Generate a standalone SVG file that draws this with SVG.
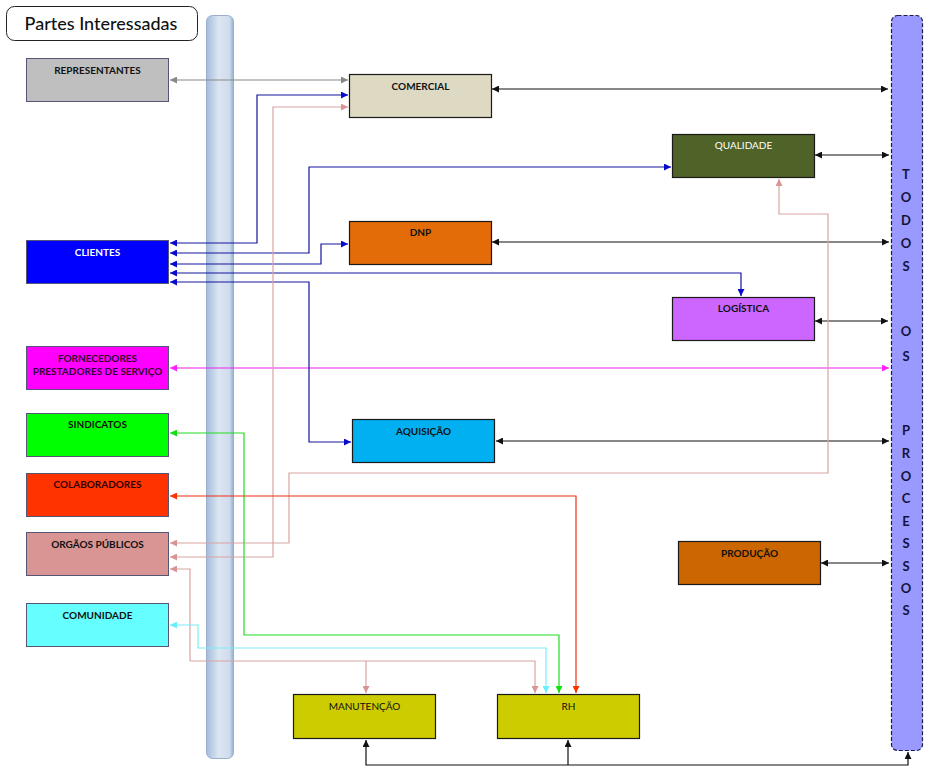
<svg xmlns="http://www.w3.org/2000/svg" width="930" height="774" viewBox="0 0 930 774">
<defs>
<style>
.n{stroke:#1a1a1a;stroke-width:1.2}
.ln{stroke:#555577;stroke-width:1}
.t{font-family:Lato,"Liberation Sans",sans-serif;font-size:10px;font-weight:bold;text-anchor:middle;fill:#111}
.tr{font-family:Lato,"Liberation Sans",sans-serif;font-size:10px;text-anchor:middle;fill:#111}
.v{font-family:Lato,"Liberation Sans",sans-serif;font-size:13px;font-weight:bold;text-anchor:middle;fill:#14143a}
.c{fill:none;stroke-width:1.2}
</style>
<linearGradient id="bar" x1="0" y1="0" x2="1" y2="0">
<stop offset="0" stop-color="#a5bcdc"/>
<stop offset="0.45" stop-color="#dce6f2"/>
<stop offset="0.85" stop-color="#cfdcec"/>
<stop offset="1" stop-color="#94aed2"/>
</linearGradient>
<marker id="mk" viewBox="0 0 10 10" refX="10" refY="5" markerWidth="9" markerHeight="7" markerUnits="userSpaceOnUse" orient="auto-start-reverse"><path d="M0,0 L10,5 L0,10 z" fill="#111"/></marker>
<marker id="mg" viewBox="0 0 10 10" refX="10" refY="5" markerWidth="9" markerHeight="7" markerUnits="userSpaceOnUse" orient="auto-start-reverse"><path d="M0,0 L10,5 L0,10 z" fill="#888"/></marker>
<marker id="mb" viewBox="0 0 10 10" refX="10" refY="5" markerWidth="9" markerHeight="7" markerUnits="userSpaceOnUse" orient="auto-start-reverse"><path d="M0,0 L10,5 L0,10 z" fill="#0a0acc"/></marker>
<marker id="mm" viewBox="0 0 10 10" refX="10" refY="5" markerWidth="9" markerHeight="7" markerUnits="userSpaceOnUse" orient="auto-start-reverse"><path d="M0,0 L10,5 L0,10 z" fill="#ff22ff"/></marker>
<marker id="mp" viewBox="0 0 10 10" refX="10" refY="5" markerWidth="9" markerHeight="7" markerUnits="userSpaceOnUse" orient="auto-start-reverse"><path d="M0,0 L10,5 L0,10 z" fill="#d99594"/></marker>
<marker id="mc" viewBox="0 0 10 10" refX="10" refY="5" markerWidth="9" markerHeight="7" markerUnits="userSpaceOnUse" orient="auto-start-reverse"><path d="M0,0 L10,5 L0,10 z" fill="#66f0ff"/></marker>
<marker id="mgr" viewBox="0 0 10 10" refX="10" refY="5" markerWidth="9" markerHeight="7" markerUnits="userSpaceOnUse" orient="auto-start-reverse"><path d="M0,0 L10,5 L0,10 z" fill="#11dd11"/></marker>
<marker id="mr" viewBox="0 0 10 10" refX="10" refY="5" markerWidth="9" markerHeight="7" markerUnits="userSpaceOnUse" orient="auto-start-reverse"><path d="M0,0 L10,5 L0,10 z" fill="#ff3300"/></marker>
</defs>
<rect width="930" height="774" fill="#ffffff"/>

<g id="title">
<rect x="6.5" y="6.5" width="191" height="34" rx="8" fill="#fff" stroke="#222" stroke-width="1"/>
<text x="101" y="30" font-family="Lato,'Liberation Sans',sans-serif" font-size="18" font-weight="500" text-anchor="middle" fill="#111">Partes Interessadas</text>
</g>

<g id="barra">
<rect x="206.5" y="15.5" width="27" height="743" rx="6" fill="url(#bar)" stroke="#9aaecb" stroke-width="1"/>
</g>

<g id="todos">
<rect x="891.5" y="15.5" width="31" height="735" rx="6" fill="#9999ff" stroke="#1c1c4a" stroke-width="1.2" stroke-dasharray="4,2"/>
<text class="v" x="906" y="179">T</text>
<text class="v" x="906" y="202">O</text>
<text class="v" x="906" y="225">D</text>
<text class="v" x="906" y="248">O</text>
<text class="v" x="906" y="271">S</text>
<text class="v" x="906" y="336">O</text>
<text class="v" x="906" y="361">S</text>
<text class="v" x="906" y="435">P</text>
<text class="v" x="906" y="458">R</text>
<text class="v" x="906" y="481">O</text>
<text class="v" x="906" y="503">C</text>
<text class="v" x="906" y="526">E</text>
<text class="v" x="906" y="548">S</text>
<text class="v" x="906" y="571">S</text>
<text class="v" x="906" y="593">O</text>
<text class="v" x="906" y="615">S</text>
</g>

<g id="connectors">
<path class="c" stroke="#888" d="M170,80 H348" marker-start="url(#mg)" marker-end="url(#mg)"/>
<path class="c" stroke="#111" d="M492,89 H888" marker-start="url(#mk)" marker-end="url(#mk)"/>
<path class="c" stroke="#111" d="M815,155 H889" marker-start="url(#mk)" marker-end="url(#mk)"/>
<path class="c" stroke="#111" d="M492,242 H889" marker-start="url(#mk)" marker-end="url(#mk)"/>
<path class="c" stroke="#111" d="M815,321 H888" marker-start="url(#mk)" marker-end="url(#mk)"/>
<path class="c" stroke="#111" d="M496,441 H889" marker-start="url(#mk)" marker-end="url(#mk)"/>
<path class="c" stroke="#111" d="M821,563 H889" marker-start="url(#mk)" marker-end="url(#mk)"/>
<path class="c" stroke="#111" d="M366,740 V765 H908 V752" marker-start="url(#mk)" marker-end="url(#mk)"/>
<path class="c" stroke="#111" d="M568,765 V740" marker-end="url(#mk)"/>
<path class="c" stroke="#ee22ee" d="M170,368 H889" marker-start="url(#mm)" marker-end="url(#mm)"/>
<path class="c" stroke="#14149c" d="M170,243 H257 V95 H348" marker-start="url(#mb)" marker-end="url(#mb)"/>
<path class="c" stroke="#14149c" d="M170,253 H309 V167 H671" marker-start="url(#mb)" marker-end="url(#mb)"/>
<path class="c" stroke="#14149c" d="M170,264 H321 V244 H348" marker-start="url(#mb)" marker-end="url(#mb)"/>
<path class="c" stroke="#14149c" d="M170,273 H741 V296" marker-start="url(#mb)" marker-end="url(#mb)"/>
<path class="c" stroke="#14149c" d="M170,282 H309 V442 H351" marker-start="url(#mb)" marker-end="url(#mb)"/>
<path class="c" stroke="#d9a3a3" d="M170,543 H289 V473 H828 V214 H779 V179" marker-start="url(#mp)" marker-end="url(#mp)"/>
<path class="c" stroke="#d9a3a3" d="M170,557 H273 V107 H348" marker-start="url(#mp)" marker-end="url(#mp)"/>
<path class="c" stroke="#d9a3a3" d="M170,569 H190 V661 H535 V693" marker-start="url(#mp)" marker-end="url(#mp)"/>
<path class="c" stroke="#d9a3a3" d="M366,661 V693" marker-end="url(#mp)"/>
<path class="c" stroke="#7aeef5" d="M170,625 H198 V648 H546 V693" marker-start="url(#mc)" marker-end="url(#mc)"/>
<path class="c" stroke="#22dd22" d="M170,433 H244 V635 H559 V693" marker-start="url(#mgr)" marker-end="url(#mgr)"/>
<path class="c" stroke="#ee3311" d="M170,496 H576 V693" marker-start="url(#mr)" marker-end="url(#mr)"/>
</g>

<g id="representantes">
<rect class="ln" x="26.5" y="58.5" width="142" height="43" fill="#bfbfbf"/>
<text class="t" x="97.5" y="74">REPRESENTANTES</text>
</g>
<g id="clientes">
<rect class="ln" x="26.5" y="240.5" width="142" height="43" fill="#0000ff"/>
<text class="t" x="97.5" y="256" style="fill:#fff">CLIENTES</text>
</g>
<g id="fornecedores">
<rect class="ln" x="26.5" y="346.5" width="142" height="43" fill="#ff00ff"/>
<text class="t" x="97.5" y="362" style="fill:#330033">FORNECEDORES</text>
<text class="t" x="97.5" y="375" style="fill:#330033">PRESTADORES DE SERVIÇO</text>
</g>
<g id="sindicatos">
<rect class="ln" x="26.5" y="413.5" width="142" height="43" fill="#00ff00"/>
<text class="t" x="97.5" y="428">SINDICATOS</text>
</g>
<g id="colaboradores">
<rect class="ln" x="26.5" y="473.5" width="142" height="43" fill="#ff3300"/>
<text class="t" x="97.5" y="488" style="fill:#330000">COLABORADORES</text>
</g>
<g id="orgaos">
<rect class="ln" x="26.5" y="532.5" width="142" height="43" fill="#d99594"/>
<text class="t" x="97.5" y="548">ORGÃOS PÚBLICOS</text>
</g>
<g id="comunidade">
<rect class="ln" x="26.5" y="603.5" width="142" height="43" fill="#66ffff"/>
<text class="t" x="97.5" y="619">COMUNIDADE</text>
</g>

<g id="comercial">
<rect class="n" x="349.5" y="74.5" width="142" height="43" fill="#ddd9c3"/>
<text class="t" x="420.5" y="90">COMERCIAL</text>
</g>
<g id="qualidade">
<rect class="n" x="672.5" y="134.5" width="142" height="43" fill="#4f6228"/>
<text class="tr" x="743.5" y="149" style="fill:#fff">QUALIDADE</text>
</g>
<g id="dnp">
<rect class="n" x="349.5" y="221.5" width="142" height="43" fill="#e36c09"/>
<text class="t" x="420.5" y="236">DNP</text>
</g>
<g id="logistica">
<rect class="n" x="672.5" y="297.5" width="142" height="43" fill="#cc66ff"/>
<text class="t" x="743.5" y="312">LOGÍSTICA</text>
</g>
<g id="aquisicao">
<rect class="n" x="352.5" y="419.5" width="142" height="43" fill="#00b0f0"/>
<text class="t" x="423.5" y="435">AQUISIÇÃO</text>
</g>
<g id="producao">
<rect class="n" x="678.5" y="541.5" width="142" height="43" fill="#cc6600"/>
<text class="t" x="749.5" y="557">PRODUÇÃO</text>
</g>
<g id="manutencao">
<rect class="n" x="293.5" y="694.5" width="142" height="44" fill="#cccc00"/>
<text class="tr" x="364.5" y="710">MANUTENÇÃO</text>
</g>
<g id="rh">
<rect class="n" x="497.5" y="694.5" width="142" height="44" fill="#cccc00"/>
<text class="tr" x="568.5" y="710">RH</text>
</g>
</svg>
